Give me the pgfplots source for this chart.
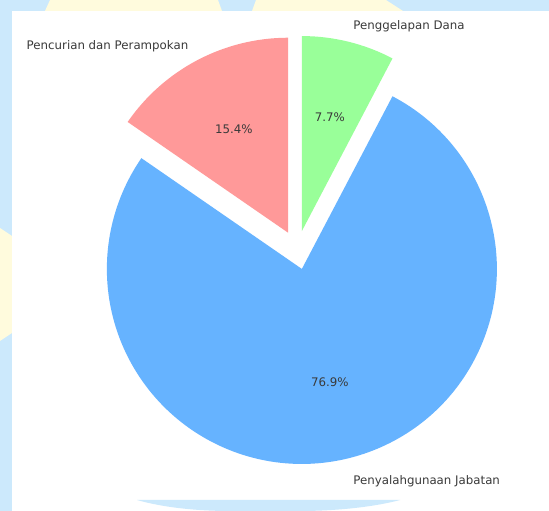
\documentclass[border=0pt]{standalone}
\usepackage{fontspec}
\setmainfont{DejaVu Sans}
\usepackage{pgfplots}
\usepackage{pgfplotstable}
\pgfplotsset{compat=1.18}
\usetikzlibrary{calc}
\definecolor{bgblue}{HTML}{CCE9FC}
\definecolor{bgyellow}{HTML}{FFFBDD}
\definecolor{cred}{HTML}{FF9999}
\definecolor{cblue}{HTML}{66B3FF}
\definecolor{cgreen}{HTML}{99FF99}
\definecolor{txt}{HTML}{3A3A3A}

% counts per category (percentages shown on the wedges)
\pgfplotstableread{
label value pct
PenggelapanDana 1 7.7
PenyalahgunaanJabatan 10 76.9
PencurianDanPerampokan 2 15.4
}\piedata
\pgfplotstablegetelem{0}{value}\of\piedata \let\vA\pgfplotsretval
\pgfplotstablegetelem{1}{value}\of\piedata \let\vB\pgfplotsretval
\pgfplotstablegetelem{2}{value}\of\piedata \let\vC\pgfplotsretval
\pgfplotstablegetelem{0}{pct}\of\piedata \let\pA\pgfplotsretval
\pgfplotstablegetelem{1}{pct}\of\piedata \let\pB\pgfplotsretval
\pgfplotstablegetelem{2}{pct}\of\piedata \let\pC\pgfplotsretval
\pgfmathsetmacro\tot{\vA+\vB+\vC}
\pgfmathsetmacro\aA{90}
\pgfmathsetmacro\aB{\aA-360*\vA/\tot}
\pgfmathsetmacro\aC{\aB-360*\vB/\tot}
\pgfmathsetmacro\aD{\aC-360*\vC/\tot}
\pgfmathsetmacro\mA{(\aA+\aB)/2}
\pgfmathsetmacro\mB{(\aB+\aC)/2}
\pgfmathsetmacro\mC{(\aC+\aD)/2}
\def\R{195}
\def\E{19.5}
\newcommand{\pieslice}[4]{% start, end, mid, colour
  \fill[#4] ($(axis cs:297.2,261)+(#3:\E bp)$) -- ++(#1:\R bp)
     arc[start angle=#1, end angle=#2, radius=\R bp] -- cycle;}

\begin{document}
\begin{tikzpicture}
\begin{axis}[
  width=549bp, height=511bp, scale only axis,
  xmin=0, xmax=549, ymin=0, ymax=511,
  hide axis, ticks=none, clip=false,
  font=\fontsize{11.8bp}{14bp}\selectfont,
]
% background
\fill[bgblue] (axis cs:0,0) rectangle (axis cs:549,511);
\fill[bgyellow] (axis cs:45,500) -- (axis cs:222,500) -- (axis cs:218,511) -- (axis cs:50,511) -- cycle;
\fill[bgyellow] (axis cs:252,500) -- (axis cs:403,500) -- (axis cs:386,511) -- (axis cs:256,511) -- cycle;
\fill[bgyellow] (axis cs:0,170) -- (axis cs:12,178) -- (axis cs:12,275) -- (axis cs:0,283) -- cycle;
\fill[white] (axis cs:12,0) rectangle (axis cs:549,500);
\fill[bgblue] (axis cs:137,11) -- (axis cs:400,11) .. controls (axis cs:370,3) and (axis cs:330,0) .. (axis cs:300,0)
   -- (axis cs:230,0) .. controls (axis cs:200,0) and (axis cs:165,3) .. (axis cs:137,11) -- cycle;
% wedges
\pieslice{\aA}{\aB}{\mA}{cgreen}
\pieslice{\aB}{\aC}{\mB}{cblue}
\pieslice{\aC}{\aD}{\mC}{cred}
% labels
\node[anchor=west, inner sep=0, text=txt, yshift=-3.5bp] at ($(axis cs:297.2,261)+(\mA:234bp)$) {Penggelapan Dana};
\node[anchor=west, inner sep=0, text=txt, yshift=-4bp] at ($(axis cs:297.2,261)+(\mB:234bp)$) {Penyalahgunaan Jabatan};
\node[anchor=east, inner sep=0, text=txt, yshift=-3.5bp] at ($(axis cs:297.2,261)+(\mC:234bp)$) {Pencurian dan Perampokan};
\node[inner sep=0, text=txt] at ($(axis cs:297.2,261)+(\mA:136.5bp)$) {\pA\%};
\node[inner sep=0, text=txt] at ($(axis cs:297.2,261)+(\mB:136.5bp)$) {\pB\%};
\node[inner sep=0, text=txt] at ($(axis cs:297.2,261)+(\mC:136.5bp)$) {\pC\%};
\end{axis}
\end{tikzpicture}
\end{document}
